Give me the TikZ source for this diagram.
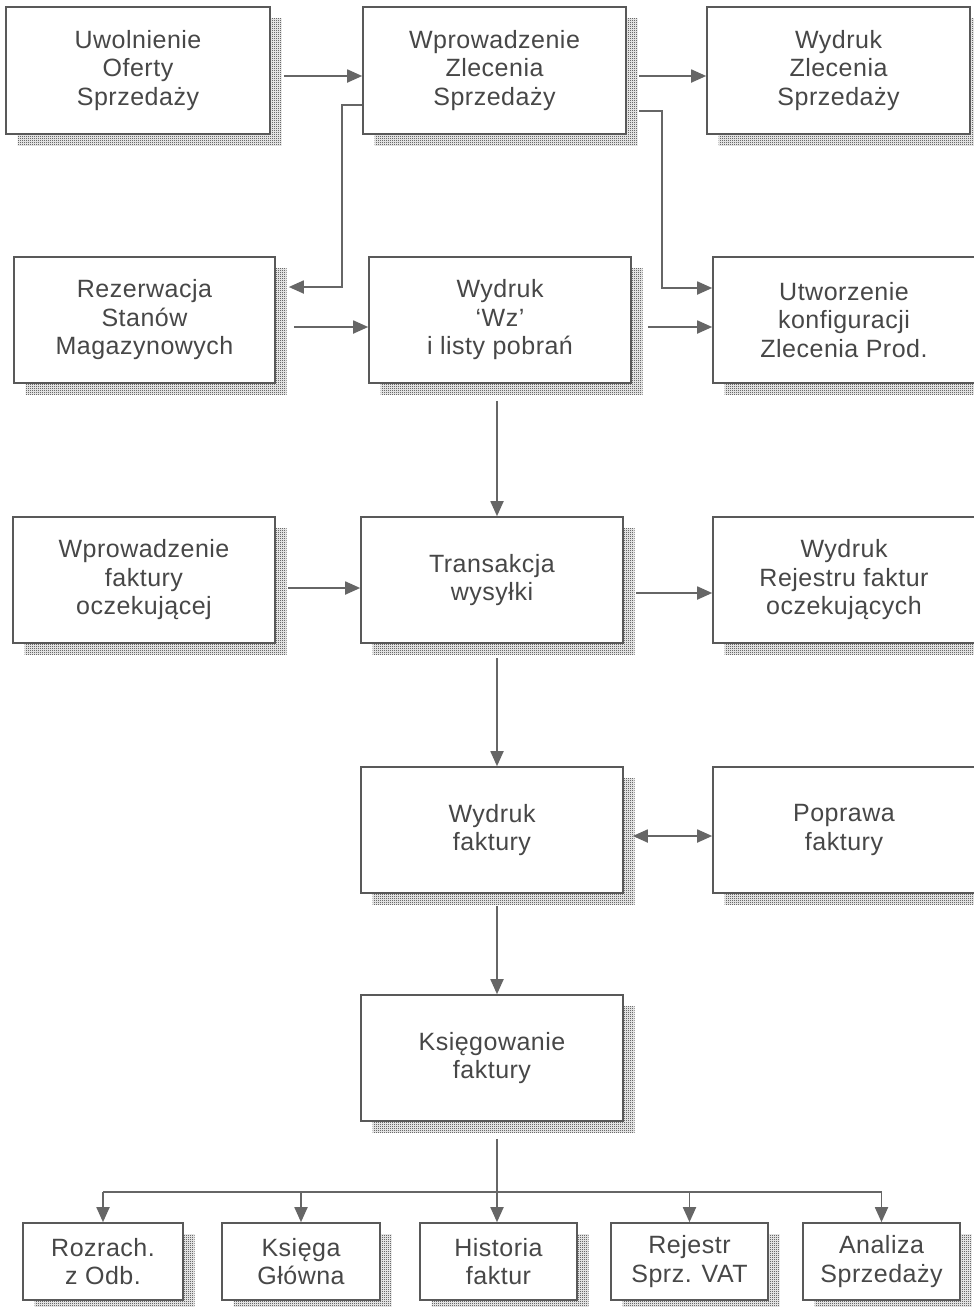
\documentclass[tikz,border=0pt]{standalone}
\usepackage{fontspec}
\setmainfont{Liberation Sans}[LetterSpace=2]
\usetikzlibrary{arrows.meta}
\usetikzlibrary{shadows,patterns}

\newcommand{\boxfont}{\fontsize{25}{28.5}\selectfont}

% fine checker for the shadows
\pgfdeclarepatternformonly{checkdots}{\pgfpointorigin}{\pgfqpoint{2pt}{2pt}}{\pgfqpoint{2pt}{2pt}}{
  \pgfpathrectangle{\pgfpointorigin}{\pgfqpoint{1pt}{1pt}}
  \pgfpathrectangle{\pgfqpoint{1pt}{1pt}}{\pgfqpoint{1pt}{1pt}}
  \pgfusepath{fill}
}

\tikzset{
  box/.style={draw=black!65, line width=1.6pt, fill=white, align=center, inner sep=0pt,
    minimum width=262pt, minimum height=126pt, text=black!72, font=\boxfont,
    general shadow={shadow xshift=11.5pt, shadow yshift=-11.5pt, pattern=checkdots, pattern color=black!90}},
  smallbox/.style={box, minimum width=157pt, minimum height=77pt},
  line/.style={draw=black!60, line width=1.8pt},
  flow/.style={line, -{Triangle[length=15pt,width=13pt]}},
  flowboth/.style={line, {Triangle[length=15pt,width=13pt]}-{Triangle[length=15pt,width=13pt]}}
}

\begin{document}
\begin{tikzpicture}[x=1pt,y=-1pt]
\useasboundingbox (0,0) rectangle (974,1307);

% first row
\node[box, minimum width=264pt, minimum height=127pt] (uwol) at (138,70.5) {Uwolnienie\\Oferty\\Sprzedaży};
\node[box, minimum width=263pt, minimum height=127pt] (wzs) at (494.5,70.5) {Wprowadzenie\\Zlecenia\\Sprzedaży};
\node[box, minimum width=263pt, minimum height=127pt] (wyzs) at (838.5,70.5) {Wydruk\\Zlecenia\\Sprzedaży};

% second row
\node[box, minimum width=261pt] (rez) at (144.5,320) {Rezerwacja\\Stanów\\Magazynowych};
\node[box] (wz) at (500,320) {Wydruk\\`Wz'\\i listy pobrań};
\node[box] (utw) at (844,320) {Utworzenie\\konfiguracji\\Zlecenia Prod.};

% third row
\node[box] (wpf) at (144,580) {Wprowadzenie\\faktury\\oczekującej};
\node[box] (trans) at (492,580) {Transakcja\\wysyłki};
\node[box] (rejf) at (844,580) {Wydruk\\Rejestru faktur\\oczekujących};

\node[box] (wyf) at (492,830) {Wydruk\\faktury};
\node[box] (popr) at (844,830) {Poprawa\\faktury};

\node[box] (ksieg) at (492,1058) {Księgowanie\\faktury};

% bottom row
\node[smallbox, minimum width=160pt] (rozr) at (103,1261.5) {Rozrach.\\z Odb.};
\node[smallbox, minimum width=158pt] (kg) at (301,1261.5) {Księga\\Główna};
\node[smallbox] (hist) at (498.5,1261.5) {Historia\\faktur};
\node[smallbox] (vat) at (689.5,1261.5) {Rejestr\\Sprz. VAT};
\node[smallbox] (anal) at (881.5,1261.5) {Analiza\\Sprzedaży};

\draw[flow, shorten <=13pt] ([yshift=-5.5pt]uwol.east) -- ([yshift=-5.5pt]wzs.west);
\draw[flow, shorten <=12pt] ([yshift=-5.5pt]wzs.east) -- ([yshift=-5.5pt]wyzs.west);
\draw[flow, shorten >=13pt] ([yshift=-34.5pt]wzs.west) -- ++(-20,0) |- ([yshift=33pt]rez.east);
\draw[flow, shorten <=12pt] ([yshift=-40.5pt]wzs.east) -- ++(35,0) |- ([yshift=32pt]utw.west);

\draw[flow, shorten <=18pt] ([yshift=-7pt]rez.east) -- ([yshift=-7pt]wz.west);
\draw[flow, shorten <=16pt] ([yshift=-7pt]wz.east) -- ([yshift=-7pt]utw.west);
\draw[flow, shorten <=17pt] ([xshift=-3pt]wz.south) -- ([xshift=5pt]trans.north);

\draw[flow, shorten <=12pt] ([yshift=-8pt]wpf.east) -- ([yshift=-8pt]trans.west);
\draw[flow, shorten <=12pt] ([yshift=-13pt]trans.east) -- ([yshift=-13pt]rejf.west);
\draw[flow, shorten <=14pt] ([xshift=5pt]trans.south) -- ([xshift=5pt]wyf.north);

\draw[flowboth, shorten <=9pt] ([yshift=-6pt]wyf.east) -- ([yshift=-6pt]popr.west);
\draw[flow, shorten <=12pt] ([xshift=5pt]wyf.south) -- ([xshift=5pt]ksieg.north);

% distribution to the bottom row
\coordinate (bus) at (497,1192);
\draw[flow, shorten <=17pt] ([xshift=5pt]ksieg.south) -- ([xshift=-1.5pt]hist.north);
\draw[line] (rozr.north |- bus) -- (anal.north |- bus);
\draw[flow] (rozr.north |- bus) -- (rozr.north);
\draw[flow] (kg.north |- bus) -- (kg.north);
\draw[flow] (vat.north |- bus) -- (vat.north);
\draw[flow] (anal.north |- bus) -- (anal.north);
\end{tikzpicture}
\end{document}
